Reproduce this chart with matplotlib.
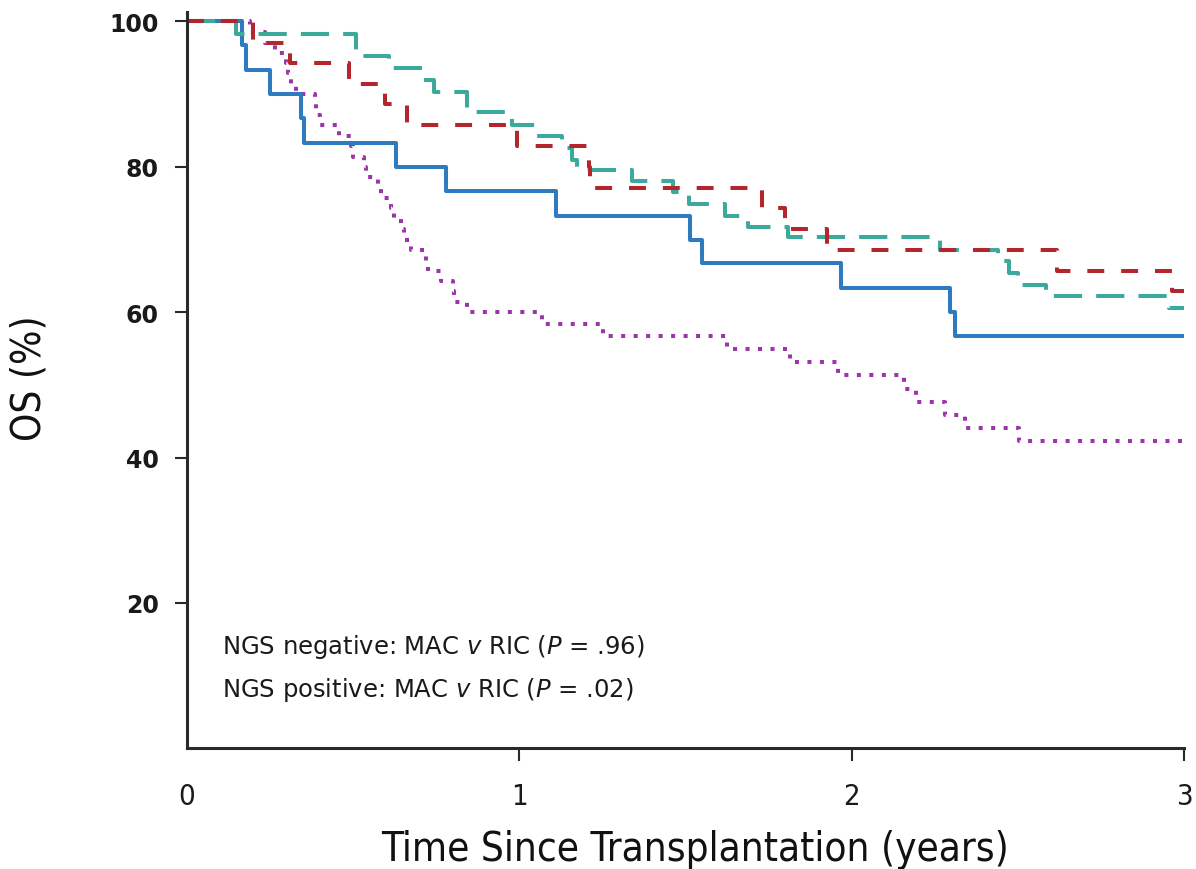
import matplotlib
matplotlib.use("Agg")
import matplotlib.pyplot as plt

# Overall survival (%) step curves, time in years since transplantation
mac_neg_t = [0, 0.15, 0.51, 0.61, 0.715, 0.745, 0.845, 0.98, 1.05, 1.13, 1.16, 1.175,
             1.34, 1.463, 1.51, 1.62, 1.69, 1.81, 2.265, 2.44, 2.475, 2.50, 2.585, 2.955, 3.0]
mac_neg_s = [100, 98.3, 95.3, 93.6, 91.9, 90.3, 87.6, 85.8, 84.2, 82.6, 81.0, 79.6,
             78.0, 76.5, 74.9, 73.2, 71.7, 70.3, 68.6, 67.0, 65.4, 63.8, 62.2, 60.6, 60.6]

ric_neg_t = [0, 0.2, 0.31, 0.49, 0.597, 0.663, 0.994, 1.21, 1.215, 1.73, 1.80, 1.926,
             2.618, 2.964, 3.0]
ric_neg_s = [100, 97.1, 94.3, 91.4, 88.6, 85.7, 82.9, 80.0, 77.1, 74.3, 71.4, 68.6,
             65.7, 62.9, 62.9]

mac_pos_t = [0, 0.168, 0.178, 0.25, 0.345, 0.352, 0.631, 0.781, 1.112, 1.515, 1.55,
             1.969, 2.296, 2.31, 3.0]
mac_pos_s = [100, 96.7, 93.3, 90.0, 86.7, 83.3, 80.0, 76.7, 73.3, 70.0, 66.7,
             63.3, 60.0, 56.7, 56.7]

ric_pos_t = [0, 0.19, 0.235, 0.265, 0.30, 0.305, 0.315, 0.33, 0.385, 0.39, 0.40,
             0.46, 0.495, 0.50, 0.535, 0.54, 0.575, 0.585, 0.615, 0.625, 0.645, 0.655,
             0.675, 0.72, 0.725, 0.765, 0.80, 0.805, 0.845, 1.07, 1.253, 1.625, 1.815,
             1.96, 2.158, 2.194, 2.281, 2.341, 2.504, 3.0]
ric_pos_s = [100, 98.6, 97.1, 95.7, 94.3, 92.9, 91.4, 90.0, 88.6, 87.1, 85.7,
             84.3, 82.9, 81.4, 80.0, 78.6, 77.1, 75.7, 74.3, 72.9, 71.4, 70.0,
             68.6, 67.1, 65.7, 64.3, 62.9, 61.4, 60.0, 58.4, 56.7, 54.9, 53.1,
             51.3, 49.5, 47.7, 45.9, 44.1, 42.3, 42.3]

x_ticks = [0, 1, 2, 3]
y_ticks = [20, 40, 60, 80, 100]
notes = [
    r"NGS negative: MAC $\mathit{v}$ RIC ($\mathit{P}$ = .96)",
    r"NGS positive: MAC $\mathit{v}$ RIC ($\mathit{P}$ = .02)",
]

plt.rcParams["mathtext.fontset"] = "dejavusans"

narrow = dict(family="DejaVu Sans", fontstretch="condensed")

fig = plt.figure(figsize=(11.96, 8.70), dpi=100)
ax = fig.add_axes([186.5 / 1196, 1 - 749.3 / 870, 997.5 / 1196, 736.3 / 870])

lw = 2.9
ax.step(ric_pos_t, ric_pos_s, where="post", color="#9a36a8", lw=lw,
        linestyle=(0, (1.0, 2.1)))
ax.step(mac_pos_t, mac_pos_s, where="post", color="#2f7bbf", lw=lw)
ax.step(mac_neg_t, mac_neg_s, where="post", color="#3ba99b", lw=lw,
        linestyle=(0, (7.0, 3.5)))
ax.step(ric_neg_t, ric_neg_s, where="post", color="#b3262b", lw=lw,
        linestyle=(0, (4.2, 4.2)))

ax.set_xlim(0, 3.0)
ax.set_ylim(0, 101.3)

for side in ("top", "right"):
    ax.spines[side].set_visible(False)
for side in ("left", "bottom"):
    ax.spines[side].set_linewidth(2.2)
    ax.spines[side].set_color("#2a2a2a")

ax.set_yticks(y_ticks)
ax.set_yticklabels([str(v) for v in y_ticks], fontsize=17, fontweight="bold",
                   family="DejaVu Sans", color="#1a1a1a")
ax.set_xticks(x_ticks)
ax.set_xticklabels([str(v) for v in x_ticks], fontsize=21, color="#1a1a1a", **narrow)
ax.tick_params(axis="y", direction="out", length=9, width=1.5, pad=11, color="#2a2a2a")
ax.tick_params(axis="x", direction="out", length=9, width=1.5, pad=15, color="#2a2a2a")
ax.xaxis.get_major_ticks()[0].tick1line.set_visible(False)

fig.text(695 / 1196, 1 - 861 / 870, "Time Since Transplantation (years)",
         ha="center", va="baseline", fontsize=29, color="#111111", **narrow)
fig.text(30 / 1196, 1 - 378 / 870, "OS (%)", ha="center", va="center",
         rotation=90, fontsize=29, color="#111111", **narrow)

for i, note in enumerate(notes):
    fig.text(222 / 1196, 1 - (654 + 43 * i) / 870, note, ha="left", va="baseline",
             fontsize=17.5, family="DejaVu Sans", color="#1a1a1a")

fig.savefig("out.png", dpi=100)
